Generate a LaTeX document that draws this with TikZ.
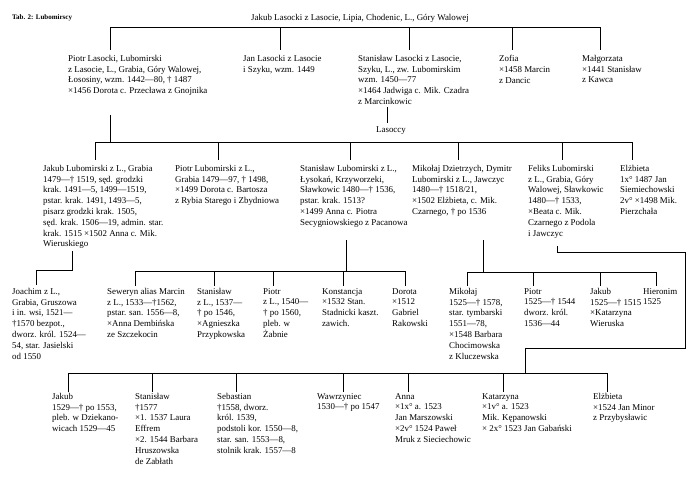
\documentclass[tikz,border=0pt]{standalone}
\usepackage{fontspec}
\setmainfont{Liberation Serif}
\begin{document}
\begin{tikzpicture}[x=1pt,y=-1pt,
  txt/.style={anchor=north west,align=left,inner sep=0pt,font=\fontsize{8.9}{10.8}\selectfont},
  ln/.style={line width=0.6pt},
  drop/.style={ln,shorten >=#1}]
\useasboundingbox (0,0) rectangle (700,477);
% title and root
\node[anchor=west,inner sep=0pt,font=\bfseries\fontsize{7}{8}\selectfont] (title) at (12,18) {Tab. 2: Lubomirscy};
\node[anchor=west,inner sep=0pt,font=\fontsize{8.9}{10.8}\selectfont] (root) at (251,18) {Jakub Lasocki z Lasocie, Lipia, Chodenic, L., Góry Walowej};
% generation 2
\node[txt] (A1) at (68,55) {Piotr Lasocki, Lubomirski\\z Lasocie, L., Grabia, Góry Walowej,\\Łososiny, wzm. 1442—80, † 1487\\ ×1456 Dorota c. Przecława z Gnojnika};
\node[txt] (A2) at (243,55) {Jan Lasocki z Lasocie\\i Szyku, wzm. 1449};
\node[txt] (A3) at (358,55) {Stanisław Lasocki z Lasocie,\\Szyku, L., zw. Lubomirskim\\wzm. 1450—77\\ ×1464 Jadwiga c. Mik. Czadra\\z Marcinkowic};
\node[txt] (A4) at (499,55) {Zofia\\ ×1458 Marcin\\z Dancic};
\node[txt] (A5) at (582,55) {Małgorzata\\ ×1441 Stanisław\\z Kawca};
\node[anchor=center,inner sep=0pt,font=\fontsize{8.9}{10.8}\selectfont] (las) at (391,131) {Lasoccy};
% generation 3
\node[txt] (B1) at (43,165) {Jakub Lubomirski z L., Grabia\\1479—† 1519, sęd. grodzki\\krak. 1491—5, 1499—1519,\\pstar. krak. 1491, 1493—5,\\pisarz grodzki krak. 1505,\\sęd. krak. 1506—19, admin. star.\\krak. 1515 ×1502 Anna c. Mik.\\Wieruskiego};
\node[txt] (B2) at (175,165) {Piotr Lubomirski z L.,\\Grabia 1479—97, † 1498,\\×1499 Dorota c. Bartosza\\z Rybia Starego i Zbydniowa};
\node[txt] (B3) at (300,165) {Stanisław Lubomirski z L.,\\Łysokań, Krzyworzeki,\\Sławkowic 1480—† 1536,\\pstar. krak. 1513?\\ ×1499 Anna c. Piotra\\Secygniowskiego z Pacanowa};
\node[txt] (B4) at (412,165) {Mikołaj Dzietrzych, Dymitr\\Lubomirski z L., Jawczyc\\1480—† 1518/21,\\ ×1502 Elżbieta, c. Mik.\\Czarnego, † po 1536};
\node[txt] (B5) at (528,165) {Feliks Lubomirski\\z L., Grabia, Góry\\Walowej, Sławkowic\\1480—† 1533,\\ ×Beata c. Mik.\\Czarnego z Podola\\i Jawczyc};
\node[txt] (B6) at (620,165) {Elżbieta\\1x° 1487 Jan\\Siemiechowski\\2v° ×1498 Mik.\\Pierzchała};
% generation 4
\node[txt] (C1) at (12,288) {Joachim z L.,\\Grabia, Gruszowa\\i in. wsi, 1521—\\†1570 bezpot.,\\dworz. król. 1524—\\54, star. Jasielski\\od 1550};
\node[txt] (C2) at (107,288) {Seweryn alias Marcin\\z L., 1533—†1562,\\pstar. san. 1556—8,\\ ×Anna Dembińska\\ze Szczekocin};
\node[txt] (C3) at (197,288) {Stanisław\\z L., 1537—\\† po 1546,\\ ×Agnieszka\\Przypkowska};
\node[txt] (C4) at (263,288) {Piotr\\z L., 1540—\\† po 1560,\\pleb. w\\Żabnie};
\node[txt] (C5) at (322,288) {Konstancja\\ ×1532 Stan.\\Stadnicki kaszt.\\zawich.};
\node[txt] (C6) at (392,288) {Dorota\\ ×1512\\Gabriel\\Rakowski};
\node[txt] (C7) at (449,288) {Mikołaj\\1525—† 1578,\\star. tymbarski\\1551—78,\\ ×1548 Barbara\\Chocimowska\\z Kluczewska};
\node[txt] (C8) at (524,288) {Piotr\\1525—† 1544\\dworz. król.\\1536—44};
\node[txt] (C9) at (590,288) {Jakub\\1525—† 1515\\ ×Katarzyna\\Wieruska};
\node[txt] (C10) at (643,288) {Hieronim\\1525};
% generation 5
\node[txt] (D1) at (52,393) {Jakub\\1529—† po 1553,\\pleb. w Dziekano-\\wicach 1529—45};
\node[txt] (D2) at (135,393) {Stanisław\\†1577\\ ×1. 1537 Laura\\Effrem\\ ×2. 1544 Barbara\\Hruszowska\\de Zabłath};
\node[txt] (D3) at (217,393) {Sebastian\\†1558, dworz.\\król. 1539,\\podstoli kor. 1550—8,\\star. san. 1553—8,\\stolnik krak. 1557—8};
\node[txt] (D4) at (317,393) {Wawrzyniec\\1530—† po 1547};
\node[txt] (D5) at (395,393) {Anna\\ ×1x° a. 1523\\Jan Marszowski\\ ×2v° 1524 Paweł\\Mruk z Sieciechowic};
\node[txt] (D6) at (482,393) {Katarzyna\\ ×1v° a. 1523\\Mik. Kępanowski\\ × 2x° 1523 Jan Gabański};
\node[txt] (D7) at (593,393) {Elżbieta\\ ×1524 Jan Minor\\z Przybysławic};
% connectors: generation 2
\coordinate (a1) at (110,27); \coordinate (a2) at (280,27); \coordinate (a3) at (409,27);
\coordinate (a4) at (512,27); \coordinate (a5) at (600,27);
\draw[ln] (a1) -- (a5);
\draw[drop=5pt] (a1) -- (a1 |- A1.north);
\draw[drop=5pt] (a2) -- (a2 |- A2.north);
\draw[drop=5pt] (a3) -- (a3 |- A3.north);
\draw[drop=5pt] (a4) -- (a4 |- A4.north);
\draw[drop=5pt] (a5) -- (a5 |- A5.north);
% Lasoccy
\coordinate (A3b) at (387,107);
\draw[drop=4pt] (A3b) -- (A3b |- las.north);
% generation 3
\coordinate (b1) at (95,142); \coordinate (b2) at (218,142); \coordinate (b3) at (350,142);
\coordinate (b4) at (458,142); \coordinate (b5) at (562,142); \coordinate (b6) at (632,142);
\coordinate (A1b) at (110,115);
\draw[ln] (A1b) -- (A1b |- b1);
\draw[ln] (b1) -- (b6);
\draw[drop=5pt] (b1) -- (b1 |- B1.north);
\draw[drop=5pt] (b2) -- (b2 |- B2.north);
\draw[drop=5pt] (b3) -- (b3 |- B3.north);
\draw[drop=5pt] (b4) -- (b4 |- B4.north);
\draw[drop=5pt] (b5) -- (b5 |- B5.north);
\draw[drop=5pt] (b6) -- (b6 |- B6.north);
% generation 4
\coordinate (B1b) at (72,251); \coordinate (c1) at (36,270);
\draw[drop=3pt] (B1b) |- (c1) -- (c1 |- C1.north);
\coordinate (B3b) at (346,240);
\coordinate (c2) at (135,271); \coordinate (c3) at (214,271); \coordinate (c4) at (273,271);
\coordinate (c5) at (343,271); \coordinate (c6) at (405,271);
\draw[ln] (B3b) -- (B3b |- c2);
\draw[ln] (c2) -- (c6);
\draw[drop=2pt] (c2) -- (c2 |- C2.north);
\draw[drop=2pt] (c3) -- (c3 |- C3.north);
\draw[drop=2pt] (c4) -- (c4 |- C4.north);
\draw[drop=2pt] (c5) -- (c5 |- C5.north);
\draw[drop=2pt] (c6) -- (c6 |- C6.north);
\coordinate (B4b) at (483,240);
\coordinate (c7) at (467,272); \coordinate (c8) at (533,272); \coordinate (c9) at (600,272);
\coordinate (c10) at (656,272);
\draw[ln] (B4b) -- (B4b |- c7);
\draw[ln] (c7) -- (c10);
\draw[drop=2pt] (c7) -- (c7 |- C7.north);
\draw[drop=2pt] (c8) -- (c8 |- C8.north);
\draw[drop=2pt] (c9) -- (c9 |- C9.north);
\draw[drop=2pt] (c10) -- (c10 |- C10.north);
% generation 5
\coordinate (B5b) at (557,246); \coordinate (f1) at (685,252); \coordinate (f2) at (525,348);
\coordinate (d1) at (68,373); \coordinate (d2) at (152,373); \coordinate (d3) at (236,373);
\coordinate (d4) at (343,373); \coordinate (d5) at (408,373); \coordinate (d6) at (503,373);
\coordinate (d7) at (607,373);
\draw[ln] (B5b) |- (f1) |- (f2) -- (f2 |- d1);
\draw[ln] (d1) -- (d7);
\draw[drop=1pt] (d1) -- (d1 |- D1.north);
\draw[drop=1pt] (d2) -- (d2 |- D2.north);
\draw[drop=1pt] (d3) -- (d3 |- D3.north);
\draw[drop=1pt] (d4) -- (d4 |- D4.north);
\draw[drop=1pt] (d5) -- (d5 |- D5.north);
\draw[drop=1pt] (d6) -- (d6 |- D6.north);
\draw[drop=1pt] (d7) -- (d7 |- D7.north);
\end{tikzpicture}
\end{document}
